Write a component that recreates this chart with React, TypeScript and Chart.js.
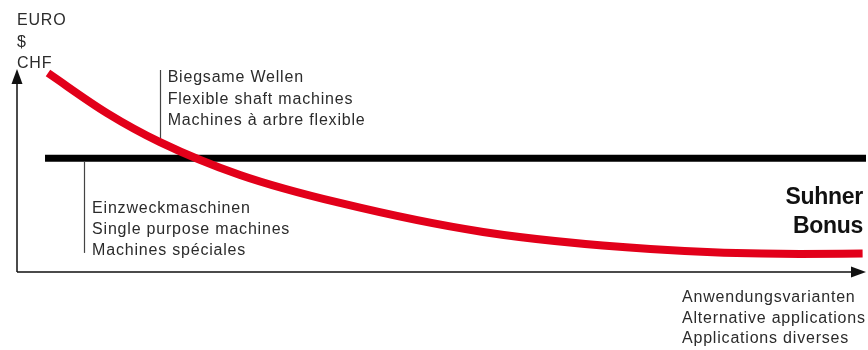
import { useEffect, useRef } from 'react';
import { Chart, registerables } from 'chart.js';

Chart.register(...registerables);

// Cost curve of flexible shaft machines over number of applications (relative units)
const flexX = [3.65, 10.6, 16.84, 26.27, 38.04, 54.9, 74.6, 92.2, 99.6];
const flexY = [98.0, 78.3, 64.0, 47.8, 34.0, 19.7, 11.3, 8.9, 9.1];

// Constant cost of single purpose machines
const singleX = [3.3, 100];
const singleY = [56.0, 56.0];

// Leader line anchors (data units)
const flexMarkerX = 16.8;
const flexMarkerY = [64, 99.5];
const singleMarkerX = 7.9;
const singleMarkerY = [9.4, 54.2];

const yAxisLabel = ['EURO', '$', 'CHF'];
const xAxisLabel = ['Anwendungsvarianten', 'Alternative applications', 'Applications diverses'];
const flexLabel = ['Biegsame Wellen', 'Flexible shaft machines', 'Machines à arbre flexible'];
const singleLabel = ['Einzweckmaschinen', 'Single purpose machines', 'Machines spéciales'];
const bonusLabel = ['Suhner', 'Bonus'];

const RED = '#e2001a';
const INK = '#111111';
const TEXT = '#2b2b2b';
const FONT = '"Liberation Sans", Arial, Helvetica, sans-serif';

const decorPlugin = {
  id: 'decor',
  beforeDatasetsDraw(chart: any) {
    const ctx = chart.ctx;
    const xs = chart.scales.x;
    const ys = chart.scales.y;
    ctx.save();
    ctx.strokeStyle = '#444';
    ctx.lineWidth = 1.2;
    const fx = Math.round(xs.getPixelForValue(flexMarkerX)) + 0.5;
    ctx.beginPath();
    ctx.moveTo(fx, ys.getPixelForValue(flexMarkerY[0]));
    ctx.lineTo(fx, ys.getPixelForValue(flexMarkerY[1]));
    ctx.stroke();
    const sx = Math.round(xs.getPixelForValue(singleMarkerX)) + 0.5;
    ctx.beginPath();
    ctx.moveTo(sx, ys.getPixelForValue(singleMarkerY[0]));
    ctx.lineTo(sx, ys.getPixelForValue(singleMarkerY[1]));
    ctx.stroke();
    ctx.restore();
  },
  afterDraw(chart: any) {
    const ctx = chart.ctx;
    const { left, right, top, bottom } = chart.chartArea;
    const xs = chart.scales.x;
    const ys = chart.scales.y;
    ctx.save();
    // axes
    ctx.strokeStyle = INK;
    ctx.fillStyle = INK;
    ctx.lineWidth = 1.5;
    ctx.beginPath();
    ctx.moveTo(left, bottom);
    ctx.lineTo(left, top + 10);
    ctx.moveTo(left, bottom);
    ctx.lineTo(right - 10, bottom);
    ctx.stroke();
    ctx.beginPath();
    ctx.moveTo(left, top);
    ctx.lineTo(left - 5.5, top + 15);
    ctx.lineTo(left + 5.5, top + 15);
    ctx.closePath();
    ctx.fill();
    ctx.beginPath();
    ctx.moveTo(right, bottom);
    ctx.lineTo(right - 15, bottom - 5.5);
    ctx.lineTo(right - 15, bottom + 5.5);
    ctx.closePath();
    ctx.fill();

    // texts
    ctx.fillStyle = TEXT;
    ctx.font = `16px ${FONT}`;
    (ctx as any).letterSpacing = '0.8px';
    ctx.textAlign = 'left';
    ctx.textBaseline = 'alphabetic';
    yAxisLabel.forEach((t, i) => ctx.fillText(t, left, top - 44 + i * 21.5));
    xAxisLabel.forEach((t, i) => ctx.fillText(t, 682, bottom + 30 + i * 20.5));
    const fx = xs.getPixelForValue(flexMarkerX);
    const fTop = ys.getPixelForValue(flexMarkerY[1]);
    flexLabel.forEach((t, i) => ctx.fillText(t, fx + 8, fTop + 12 + i * 21.5));
    const sx = xs.getPixelForValue(singleMarkerX);
    const sBottom = ys.getPixelForValue(singleMarkerY[0]);
    singleLabel.forEach((t, i) => ctx.fillText(t, sx + 8, sBottom - 40 + i * 21));

    ctx.fillStyle = INK;
    (ctx as any).letterSpacing = '-0.3px';
    ctx.font = `bold 23px ${FONT}`;
    ctx.textAlign = 'right';
    bonusLabel.forEach((t, i) => ctx.fillText(t, right - 3, 204 + i * 29));
    ctx.restore();
  },
};

export default function App() {
  const ref = useRef<HTMLCanvasElement>(null);
  useEffect(() => {
    if (!ref.current) return;
    const chart = new Chart(ref.current, {
      type: 'line',
      data: {
        datasets: [
          {
            label: 'Flexible shaft machines',
            data: flexX.map((x, i) => ({ x, y: flexY[i] })),
            borderColor: RED,
            borderWidth: 8,
            borderCapStyle: 'butt',
            pointRadius: 0,
            cubicInterpolationMode: 'monotone',
            clip: false,
          },
          {
            label: 'Single purpose machines',
            data: singleX.map((x, i) => ({ x, y: singleY[i] })),
            borderColor: '#000',
            borderWidth: 7,
            borderCapStyle: 'butt',
            pointRadius: 0,
            clip: false,
          },
        ],
      },
      options: {
        animation: false,
        responsive: false,
        devicePixelRatio: 1,
        layout: { padding: { left: 17, right: 2, top: 69, bottom: 78 } },
        plugins: { legend: { display: false }, tooltip: { enabled: false } },
        scales: {
          x: { type: 'linear', min: 0, max: 100, display: false },
          y: { type: 'linear', min: 0, max: 100, display: false },
        },
      },
      plugins: [decorPlugin],
    } as any);
    return () => chart.destroy();
  }, []);
  return (
    <div style={{ position: 'absolute', left: 0, top: 0, width: 868, height: 350, background: '#fff' }}>
      <canvas ref={ref} width={868} height={350} style={{ display: 'block' }} />
    </div>
  );
}
